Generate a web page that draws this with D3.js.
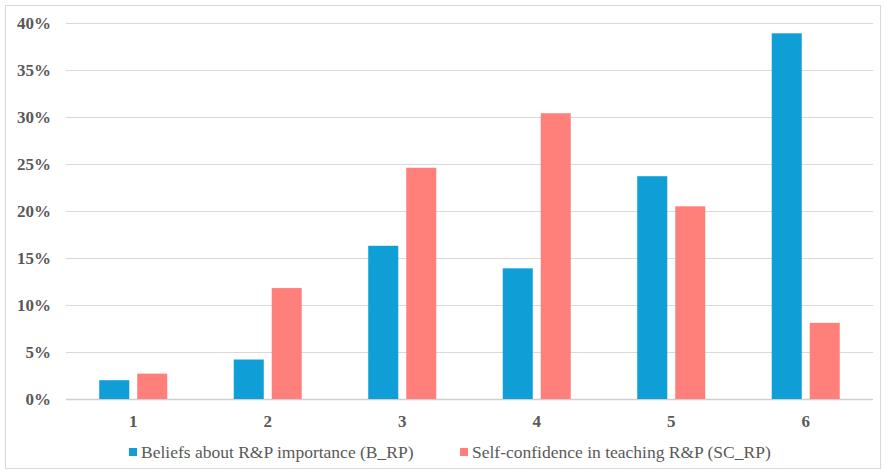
<!DOCTYPE html>
<html>
<head>
<meta charset="utf-8">
<script src="https://cdn.jsdelivr.net/npm/d3@7"></script>
<style>
  html, body { margin: 0; padding: 0; background: #fff; }
  svg { display: block; }
  svg text { font-family: "Liberation Serif", "DejaVu Serif", serif; }
</style>
</head>
<body>
<svg id="chart" width="886" height="474"></svg>
<script>
const categories = ["1", "2", "3", "4", "5", "6"];
const seriesNames = ["Beliefs about R&P importance (B_RP)", "Self-confidence in teaching R&P (SC_RP)"];
const beliefs = [2.0, 4.2, 16.3, 13.9, 23.7, 38.9];
const selfConfidence = [2.7, 11.8, 24.6, 30.4, 20.5, 8.1];
const yTicks = [0, 5, 10, 15, 20, 25, 30, 35, 40];
const colors = ["#0F9ED5", "#FF7F7B"];

const FONT = '"Liberation Serif", "DejaVu Serif", serif';
const svg = d3.select("#chart");
const margin = { left: 66, right: 13, top: 23, bottom: 75 };
const W = 886, H = 474;

// outer frame
svg.append("rect").attr("x", 5.5).attr("y", 5.5).attr("width", W - 11).attr("height", H - 11)
  .attr("fill", "#fff").attr("stroke", "#d9d9d9").attr("stroke-width", 1);

const x0 = d3.scaleBand().domain(categories).range([margin.left, W - margin.right]).paddingInner(0).paddingOuter(0);
const x1 = d3.scaleBand().domain([0, 1]).range([0, x0.bandwidth()]).paddingInner(0.21).paddingOuter(0.875);
const y = d3.scaleLinear().domain([0, 40]).range([H - margin.bottom, margin.top]);

// gridlines
svg.append("g").selectAll("line").data(yTicks).join("line")
  .attr("x1", margin.left).attr("x2", W - margin.right)
  .attr("y1", d => Math.round(y(d)) + 0.5).attr("y2", d => Math.round(y(d)) + 0.5)
  .attr("stroke", d => d === 0 ? "#cfcfcf" : "#d9d9d9").attr("stroke-width", d => d === 0 ? 1.5 : 1.2);

// y axis labels
const yAxis = d3.axisLeft(y).tickValues(yTicks).tickFormat(d => d + "%").tickSize(0).tickPadding(0);
const gy = svg.append("g").attr("transform", `translate(${margin.left - 15},0)`).call(yAxis);
gy.attr("font-family", null);
gy.select(".domain").remove();
gy.selectAll("text").style("font-family", FONT)
  .style("font-weight", "bold").style("font-size", "17px").attr("fill", "#595959");

// x axis labels
const xAxis = d3.axisBottom(x0).tickSize(0).tickPadding(16);
const gx = svg.append("g").attr("transform", `translate(0,${H - margin.bottom})`).call(xAxis);
gx.attr("font-family", null);
gx.select(".domain").remove();
gx.selectAll("text").style("font-family", FONT)
  .style("font-weight", "bold").style("font-size", "17px").attr("fill", "#595959");

// bars
const data = categories.map((c, i) => ({ cat: c, vals: [beliefs[i], selfConfidence[i]] }));
const groups = svg.append("g").selectAll("g").data(data).join("g")
  .attr("transform", d => `translate(${x0(d.cat)},0)`);
groups.selectAll("rect").data(d => d.vals.map((v, k) => ({ k, v }))).join("rect")
  .attr("x", d => x1(d.k)).attr("width", x1.bandwidth())
  .attr("y", d => y(d.v)).attr("height", d => y(0) - y(d.v))
  .attr("fill", d => colors[d.k]);

// legend
const legendX = [129, 460];
const leg = svg.append("g").selectAll("g").data(seriesNames).join("g")
  .attr("transform", (d, i) => `translate(${legendX[i]},448)`);
leg.append("rect").attr("width", 8).attr("height", 8).attr("fill", (d, i) => colors[i]);
leg.append("text").attr("x", 12).attr("y", 9.5)
  .style("font-family", FONT)
  .style("font-size", "17.5px").attr("fill", "#595959").text(d => d);
</script>
</body>
</html>
